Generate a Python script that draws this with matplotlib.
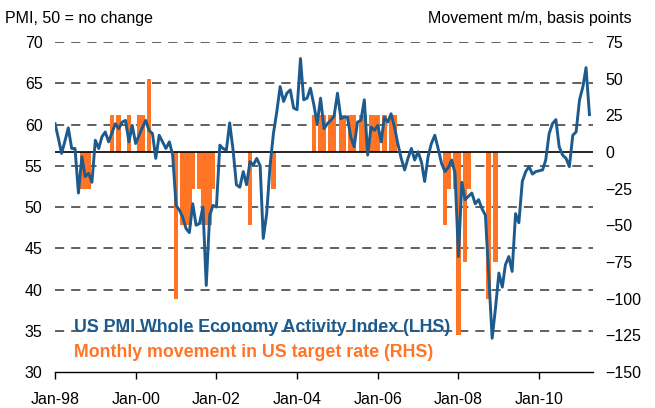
import matplotlib
matplotlib.use("Agg")
import matplotlib.pyplot as plt
import matplotlib.dates as mdates
import pandas as pd

plt.rcParams['font.family'] = ['Liberation Sans', 'DejaVu Sans']

# PMI whole economy activity index, monthly from Jan-98
pmi = [60.1, 58.3, 56.5, 58.0, 59.6, 57.1, 57.1, 51.7, 56.1, 53.7,
       54.1, 53.0, 58.1, 57.1, 58.5, 59.1, 57.9, 59.0, 60.1, 59.5,
       60.3, 60.5, 57.9, 59.9, 57.7, 58.7, 59.6, 60.5, 59.3, 58.9,
       55.9, 58.7, 57.9, 57.1, 57.9, 56.3, 50.2, 49.6, 48.8, 47.4,
       46.9, 50.4, 47.8, 48.0, 50.0, 40.5, 49.0, 50.2, 50.0, 57.5,
       57.1, 56.9, 60.2, 56.9, 52.7, 52.4, 54.3, 52.7, 55.5, 55.1,
       55.9, 55.0, 46.2, 49.2, 54.9, 58.9, 61.5, 64.6, 62.8, 63.8,
       64.2, 62.0, 61.8, 68.0, 63.0, 63.2, 64.4, 62.4, 60.1, 63.2,
       59.5, 60.1, 60.5, 61.0, 63.8, 60.7, 60.9, 60.9, 58.5, 57.3,
       60.3, 60.5, 63.0, 56.3, 59.7, 59.3, 59.9, 57.9, 60.9, 60.3,
       61.3, 59.7, 57.7, 55.9, 54.5, 55.9, 57.1, 55.7, 56.7, 55.4,
       53.1, 56.1, 57.7, 58.7, 57.1, 55.3, 54.3, 54.8, 55.7, 54.1,
       44.0, 53.0, 50.9, 51.3, 51.7, 50.4, 50.9, 49.8, 49.0, 41.8,
       34.1, 37.7, 42.0, 40.3, 43.0, 44.0, 42.2, 49.2, 48.1, 53.1,
       54.3, 54.9, 54.0, 54.3, 54.4, 54.5, 55.7, 58.9, 60.1, 60.6,
       57.3, 56.3, 55.9, 54.9, 58.7, 59.1, 63.0, 64.6, 66.9, 61.2]
months = pd.date_range('1998-01-01', periods=len(pmi), freq='MS')

# monthly movement in US target rate, basis points
rate_months = ['1998-09', '1998-10', '1998-11', '1999-06', '1999-08', '1999-11',
               '2000-02', '2000-03', '2000-05', '2001-01', '2001-03', '2001-04',
               '2001-05', '2001-06', '2001-08', '2001-09', '2001-10', '2001-11',
               '2001-12', '2002-11', '2003-06', '2004-06', '2004-08', '2004-09',
               '2004-11', '2004-12', '2005-02', '2005-03', '2005-05', '2005-06',
               '2005-08', '2005-09', '2005-11', '2005-12', '2006-01', '2006-03',
               '2006-05', '2006-06', '2007-09', '2007-10', '2007-12', '2008-01',
               '2008-03', '2008-04', '2008-10', '2008-12']
rate_moves = [-25, -25, -25, 25, 25, 25,
              25, 25, 50, -100, -50, -50,
              -50, -25, -25, -50, -50, -50,
              -25, -50, -25, 25, 25, 25,
              25, 25, 25, 25, 25, 25,
              25, 25, 25, 25, 25, 25,
              25, 25, -50, -25, -25, -125,
              -75, -25, -100, -75]
rate_dates = pd.to_datetime(rate_months)

left_ticks = [30, 35, 40, 45, 50, 55, 60, 65, 70]
right_ticks = [-150, -125, -100, -75, -50, -25, 0, 25, 50, 75]
x_ticks = pd.to_datetime(['1998-01', '2000-01', '2002-01', '2004-01',
                          '2006-01', '2008-01', '2010-01'])

blue = '#1d5b8e'
orange = '#ff7425'

fig = plt.figure(figsize=(6.55, 4.08), dpi=100)
ax = fig.add_axes([0.084, 0.088, 0.821, 0.809])
ax_bar = ax.twinx()
ax_line = ax.twinx()

# grid layer
ax.set_ylim(30, 70)
ax.set_yticks(left_ticks)
for v in left_ticks[1:]:
    ax.axhline(v, color='#454545', lw=1.2, dashes=(5.5, 4.2), zorder=0)
ax.tick_params(axis='y', length=0, pad=9, labelsize=11.5)
ax.set_xlim(pd.Timestamp('1998-01-01'), pd.Timestamp('2011-05-01'))
ax.set_xticks(x_ticks)
ax.xaxis.set_major_formatter(mdates.DateFormatter('%b-%y'))
ax.tick_params(axis='x', length=5, width=1, pad=9, labelsize=11.5)
for s in ['left', 'right', 'top']:
    ax.spines[s].set_visible(False)
ax.spines['bottom'].set_linewidth(1)

# bars on right axis
ax_bar.bar(rate_dates, rate_moves, width=42, color=orange, lw=0, zorder=2)
ax_bar.axhline(0, color='black', lw=1.2, zorder=3)
ax_bar.set_ylim(-150, 75)
ax_bar.set_yticks(right_ticks)
ax_bar.tick_params(axis='y', length=0, pad=9, labelsize=11.5)
for s in ax_bar.spines.values():
    s.set_visible(False)

# PMI line on top
ax_line.plot(months, pmi, color=blue, lw=2.1, solid_joinstyle='round', zorder=4)
ax_line.set_ylim(30, 70)
ax_line.set_yticks([])
for s in ax_line.spines.values():
    s.set_visible(False)

fig.text(0.008, 0.955, 'PMI, 50 = no change', fontsize=11.5, va='center')
fig.text(0.965, 0.955, 'Movement m/m, basis points', fontsize=11.5,
         va='center', ha='right')
ax.text(0.035, 0.135, 'US PMI Whole Economy Activity Index (LHS)',
        transform=ax.transAxes, color=blue, fontsize=12.8, fontweight='bold',
        va='center')
ax.text(0.035, 0.058, 'Monthly movement in US target rate (RHS)',
        transform=ax.transAxes, color=orange, fontsize=12.8, fontweight='bold',
        va='center')

fig.savefig('out.png', dpi=100)
